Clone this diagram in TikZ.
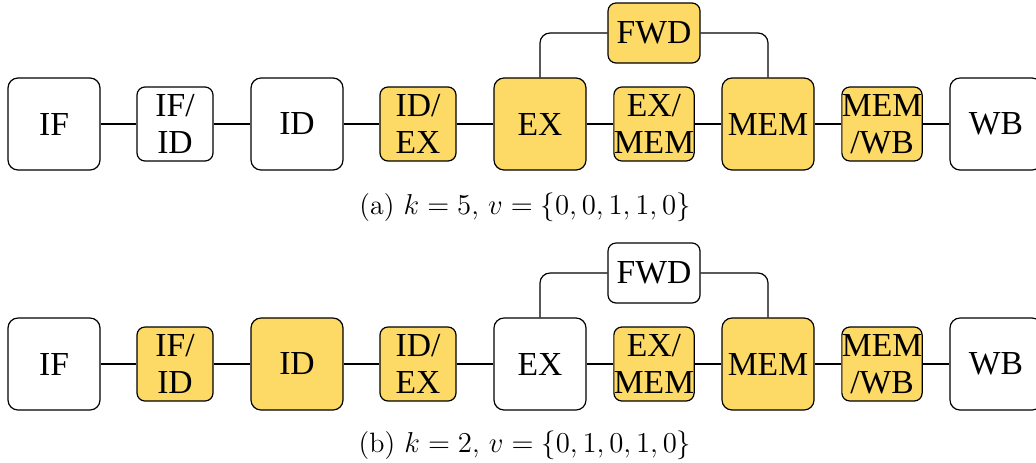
\documentclass[tikz,border=0pt]{standalone}
\usepackage{fontspec}
\newfontfamily\boxfont{Liberation Serif}
\definecolor{stageyellow}{HTML}{FDD966}
\begin{document}
\begin{tikzpicture}[x=0.5pt,y=-0.5pt,
  base/.style={draw=black,line width=0.6pt,inner sep=0pt,align=center,
    font=\boxfont\fontsize{16.8}{18.5}\selectfont},
  stage/.style={base,minimum width=46pt,minimum height=46pt,rounded corners=5pt},
  latch/.style={base,minimum width=38pt,minimum height=37pt,rounded corners=4pt},
  fwdbox/.style={base,minimum width=46pt,minimum height=30pt,rounded corners=4pt},
  on/.style={fill=stageyellow},
  off/.style={fill=white},
  wire/.style={line width=0.6pt},
  bus/.style={line width=0.6pt,rounded corners=5pt},
  caption/.style={font=\fontsize{14}{16}\selectfont}]
\useasboundingbox (0,0) rectangle (1036,462);

% ---- (a) k = 5
\node[stage,off]  (a1) at (54,124)  {IF};
\node[latch,off]  (a2) at (175,124) {IF/\\ID};
\node[stage,off]  (a3) at (297,124) {ID};
\node[latch,on]   (a4) at (418,124) {ID/\\EX};
\node[stage,on]   (a5) at (540,124) {EX};
\node[latch,on]   (a6) at (654,124) {EX/\\MEM};
\node[stage,on]   (a7) at (768,124) {MEM};
\node[latch,on]   (a8) at (882,124) {MEM\\/WB};
\node[stage,off]  (a9) at (996,124) {WB};
\node[fwdbox,on]  (af) at (654,33)  {FWD};
\foreach \i [evaluate=\i as \j using int(\i+1)] in {1,...,8}
  \draw[wire] (a\i) -- (a\j);
\draw[bus] (a5.north) |- (af.west);
\draw[bus] (a7.north) |- (af.east);
\node[caption] (capa) at (525,207) {(a) $k=5$, $v=\{0,0,1,1,0\}$};

% ---- (b) k = 2
\node[stage,off]  (b1) at (54,364)  {IF};
\node[latch,on]   (b2) at (175,364) {IF/\\ID};
\node[stage,on]   (b3) at (297,364) {ID};
\node[latch,on]   (b4) at (418,364) {ID/\\EX};
\node[stage,off]  (b5) at (540,364) {EX};
\node[latch,on]   (b6) at (654,364) {EX/\\MEM};
\node[stage,on]   (b7) at (768,364) {MEM};
\node[latch,on]   (b8) at (882,364) {MEM\\/WB};
\node[stage,off]  (b9) at (996,364) {WB};
\node[fwdbox,off] (bf) at (654,273) {FWD};
\foreach \i [evaluate=\i as \j using int(\i+1)] in {1,...,8}
  \draw[wire] (b\i) -- (b\j);
\draw[bus] (b5.north) |- (bf.west);
\draw[bus] (b7.north) |- (bf.east);
\node[caption] (capb) at (525,445) {(b) $k=2$, $v=\{0,1,0,1,0\}$};
\end{tikzpicture}
\end{document}
